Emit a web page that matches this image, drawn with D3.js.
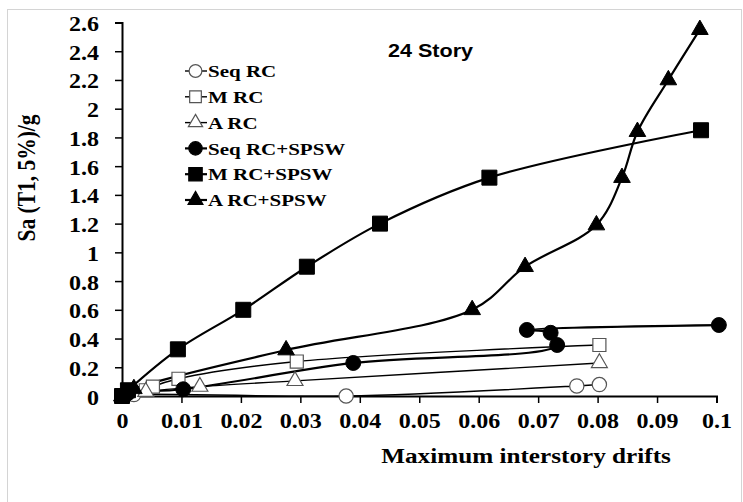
<!DOCTYPE html>
<html>
<head>
<meta charset="utf-8">
<script src="https://cdn.jsdelivr.net/npm/d3@7"></script>
<style>
  body { margin: 0; background: #fff; }
  svg { display: block; }
</style>
</head>
<body>
<div id="chartDiv"></div>
<script>
// data: [drift, Sa]
var seqRC      = [[0, 0], [0.002, 0.01], [0.0377, 0], [0.0765, 0.07], [0.0803, 0.08]];
var mRC        = [[0, 0], [0.004, 0.04], [0.0052, 0.065], [0.0095, 0.12], [0.0294, 0.24], [0.0803, 0.355]];
var aRC        = [[0, 0], [0.004, 0.03], [0.0131, 0.065], [0.0291, 0.105], [0.0803, 0.23]];
var seqRCSPSW  = [[0, 0], [0.001, 0.02], [0.0103, 0.047], [0.0389, 0.23], [0.0732, 0.355], [0.0721, 0.44], [0.0681, 0.46], [0.1004, 0.494]];
var mRCSPSW    = [[0, 0], [0.001, 0.04], [0.0094, 0.325], [0.0204, 0.6], [0.0311, 0.9], [0.0434, 1.2], [0.0618, 1.52], [0.0974, 1.85]];
var aRCSPSW    = [[0, 0], [0.002, 0.05], [0.0276, 0.32], [0.0589, 0.6], [0.0678, 0.9], [0.0798, 1.19], [0.0841, 1.52], [0.0867, 1.84], [0.0919, 2.2], [0.0972, 2.55]];

var seriesNames = ["Seq RC", "M RC", "A RC", "Seq RC+SPSW", "M RC+SPSW", "A RC+SPSW"];
var seriesData  = [seqRC, mRC, aRC, seqRCSPSW, mRCSPSW, aRCSPSW];
var xTicks = [0, 0.01, 0.02, 0.03, 0.04, 0.05, 0.06, 0.07, 0.08, 0.09, 0.1];
var yTicks = [0, 0.2, 0.4, 0.6, 0.8, 1, 1.2, 1.4, 1.6, 1.8, 2, 2.2, 2.4, 2.6];

// marker style per series
var shapes = [d3.symbolCircle, d3.symbolSquare, d3.symbolTriangle, d3.symbolCircle, d3.symbolSquare, d3.symbolTriangle];
var filled = [false, false, false, true, true, true];
var sizes  = [160, 170, 110, 175, 225, 120];

var width = 743, height = 502;
var svg = d3.select("#chartDiv").append("svg")
    .attr("width", width)
    .attr("height", height);

var serif = "'Liberation Serif', 'Times New Roman', serif";
var sans = "'Liberation Sans', Arial, sans-serif";
var stretch = 1.2; // the picture is a bit wider than tall, text looks stretched

// light frame around the picture
svg.append("rect")
    .attr("x", 7.5).attr("y", 9.5)
    .attr("width", 734).attr("height", 510)
    .attr("fill", "none")
    .style("stroke", "#d4d4d4")
    .style("stroke-width", 1);

var x_scale = d3.scaleLinear().domain([0, 0.1]).range([122, 716.5]);
var y_scale = d3.scaleLinear().domain([0, 2.6]).range([396, 22.5]);

// axes
var fmt = function(d){ return d3.format("~g")(d); };
var xAxis = svg.append("g")
    .attr("transform", "translate(0," + y_scale(0) + ")")
    .call(d3.axisBottom(x_scale).tickValues(xTicks).tickSize(7).tickFormat(fmt));
var yAxis = svg.append("g")
    .attr("transform", "translate(" + x_scale(0) + ",0)")
    .call(d3.axisLeft(y_scale).tickValues(yTicks).tickSize(7).tickFormat(fmt));

[xAxis, yAxis].forEach(function(a){
  a.select(".domain").style("stroke", "#000").style("stroke-width", 2);
  a.selectAll(".tick line").style("stroke", "#000").style("stroke-width", 1.5);
  a.selectAll("text")
    .style("font-family", serif)
    .style("font-weight", "bold")
    .style("font-size", "20px")
    .attr("fill", "#000");
});
xAxis.selectAll("text")
    .attr("y", 32).attr("dy", 0)
    .attr("transform", "scale(" + stretch + ",1)");
yAxis.selectAll("text")
    .attr("x", -23 / stretch).attr("dy", "0.4em")
    .attr("transform", "scale(" + stretch + ",1)");

function addText(str, x, y, family, size, anchor) {
  return svg.append("text")
      .text(str)
      .attr("text-anchor", anchor)
      .attr("transform", "translate(" + x + "," + y + ") scale(" + stretch + ",1)")
      .style("font-family", family)
      .style("font-weight", "bold")
      .style("font-size", size + "px");
}

// titles
addText("Maximum interstory drifts", 526, 463, serif, 21, "middle");
addText("24 Story", 430.5, 56.5, sans, 18, "middle");

svg.append("text")
    .text("Sa (T1, 5%)/g")
    .attr("text-anchor", "middle")
    .attr("transform", "translate(35,178) rotate(-90) scale(1," + stretch + ")")
    .style("font-family", serif).style("font-weight", "bold").style("font-size", "21.5px");

// lines
var line = d3.line()
    .x(function(d){ return x_scale(d[0]); })
    .y(function(d){ return y_scale(d[1]); })
    .curve(d3.curveCatmullRom.alpha(0.5));

var plot = svg.append("g");
seriesData.forEach(function(data, i){
  plot.append("path")
      .datum(data)
      .attr("d", line)
      .attr("fill", "none")
      .style("stroke", "#000")
      .style("stroke-width", filled[i] ? 2.2 : 1.4);
});

// markers
seriesData.forEach(function(data, i){
  plot.append("g").selectAll("path").data(data).enter()
      .append("path")
      .attr("d", d3.symbol().type(shapes[i]).size(sizes[i]))
      .attr("transform", function(d){
        return "translate(" + x_scale(d[0]) + "," + y_scale(d[1]) + ")";
      })
      .attr("fill", filled[i] ? "#000" : "#fff")
      .style("stroke", filled[i] ? "#000" : "#555")
      .style("stroke-width", filled[i] ? 1 : 1.2);
});

// legend
var legendX = 185, legendY = 71, legendStep = 25.8;
var legend = svg.append("g");
seriesNames.forEach(function(name, i){
  var y = legendY + i * legendStep;
  legend.append("line")
      .attr("x1", legendX).attr("x2", legendX + 22)
      .attr("y1", y).attr("y2", y)
      .style("stroke", "#000")
      .style("stroke-width", filled[i] ? 2.2 : 1.4);
  legend.append("path")
      .attr("d", d3.symbol().type(shapes[i]).size(sizes[i] * 0.8))
      .attr("transform", "translate(" + (legendX + 10.5) + "," + y + ")")
      .attr("fill", filled[i] ? "#000" : "#fff")
      .style("stroke", filled[i] ? "#000" : "#555")
      .style("stroke-width", 1.2);
  addText(name, legendX + 23, y, serif, 17.5, "start").attr("dy", "0.35em");
});
</script>
</body>
</html>
